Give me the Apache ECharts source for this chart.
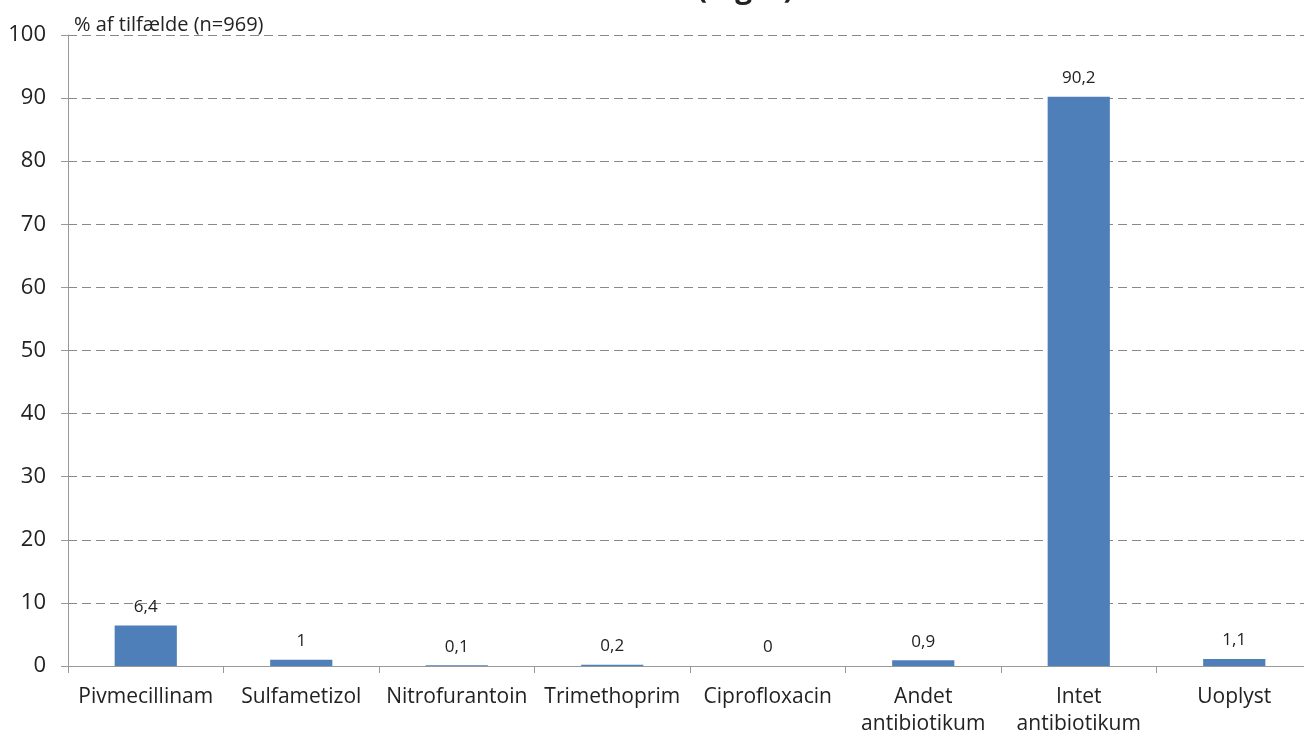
<!DOCTYPE html>
<html>
<head>
<meta charset="utf-8">
<script src="https://cdn.jsdelivr.net/npm/echarts@6/dist/echarts.min.js"></script>
<style>
  html, body { margin: 0; padding: 0; background: #fff; }
  #chart { width: 1304px; height: 736px; }
</style>
</head>
<body>
<div id="chart"></div>
<script>
// Antibiotic treatment shares, percent of cases
const categories = ['Pivmecillinam', 'Sulfametizol', 'Nitrofurantoin', 'Trimethoprim', 'Ciprofloxacin', 'Andet\nantibiotikum', 'Intet\nantibiotikum', 'Uoplyst'];
const shares = [6.4, 1, 0.1, 0.2, 0, 0.9, 90.2, 1.1];
const yTicks = [0, 10, 20, 30, 40, 50, 60, 70, 80, 90, 100];

const FONT = '"Open Sans", sans-serif';
const chart = echarts.init(document.getElementById('chart'), null, { renderer: 'canvas' });

chart.setOption({
  animation: false,
  backgroundColor: '#ffffff',
  title: {
    text: '(Piger)',
    left: 692,
    top: -31,
    textStyle: { fontFamily: FONT, fontSize: 30, fontWeight: 'bold', color: '#222' }
  },
  grid: { left: 68, top: 35, width: 1244, height: 631, containLabel: false, outerBoundsMode: 'none' },
  xAxis: {
    type: 'category',
    data: categories,
    axisLine: { lineStyle: { color: '#999', width: 1 } },
    axisTick: { show: true, length: 7, lineStyle: { color: '#999' } },
    axisLabel: {
      fontFamily: FONT, fontSize: 21, color: '#222', margin: 18, lineHeight: 27, interval: 0
    },
    splitLine: { show: false }
  },
  yAxis: {
    type: 'value',
    min: yTicks[0],
    max: yTicks[yTicks.length - 1],
    interval: 10,
    name: '% af tilfælde (n=969)',
    nameLocation: 'end',
    nameGap: 0,
    nameTextStyle: { fontFamily: FONT, fontSize: 20, color: '#222', align: 'left', verticalAlign: 'bottom', padding: [0, 0, 0, 6] },
    axisLine: { show: true, lineStyle: { color: '#999', width: 1 } },
    axisTick: { show: true, length: 7, lineStyle: { color: '#999' } },
    axisLabel: { fontFamily: FONT, fontSize: 22, color: '#222', margin: 22 },
    splitLine: { show: true, lineStyle: { color: '#888', width: 1, type: [9, 5] } }
  },
  series: [{
    type: 'bar',
    data: shares,
    barWidth: '40%',
    itemStyle: { color: '#4F7FB8' },
    label: {
      show: true,
      position: 'top',
      distance: 10,
      fontFamily: FONT,
      fontSize: 17,
      color: '#222',
      formatter: p => String(p.value).replace('.', ',')
    }
  }]
});
</script>
</body>
</html>
